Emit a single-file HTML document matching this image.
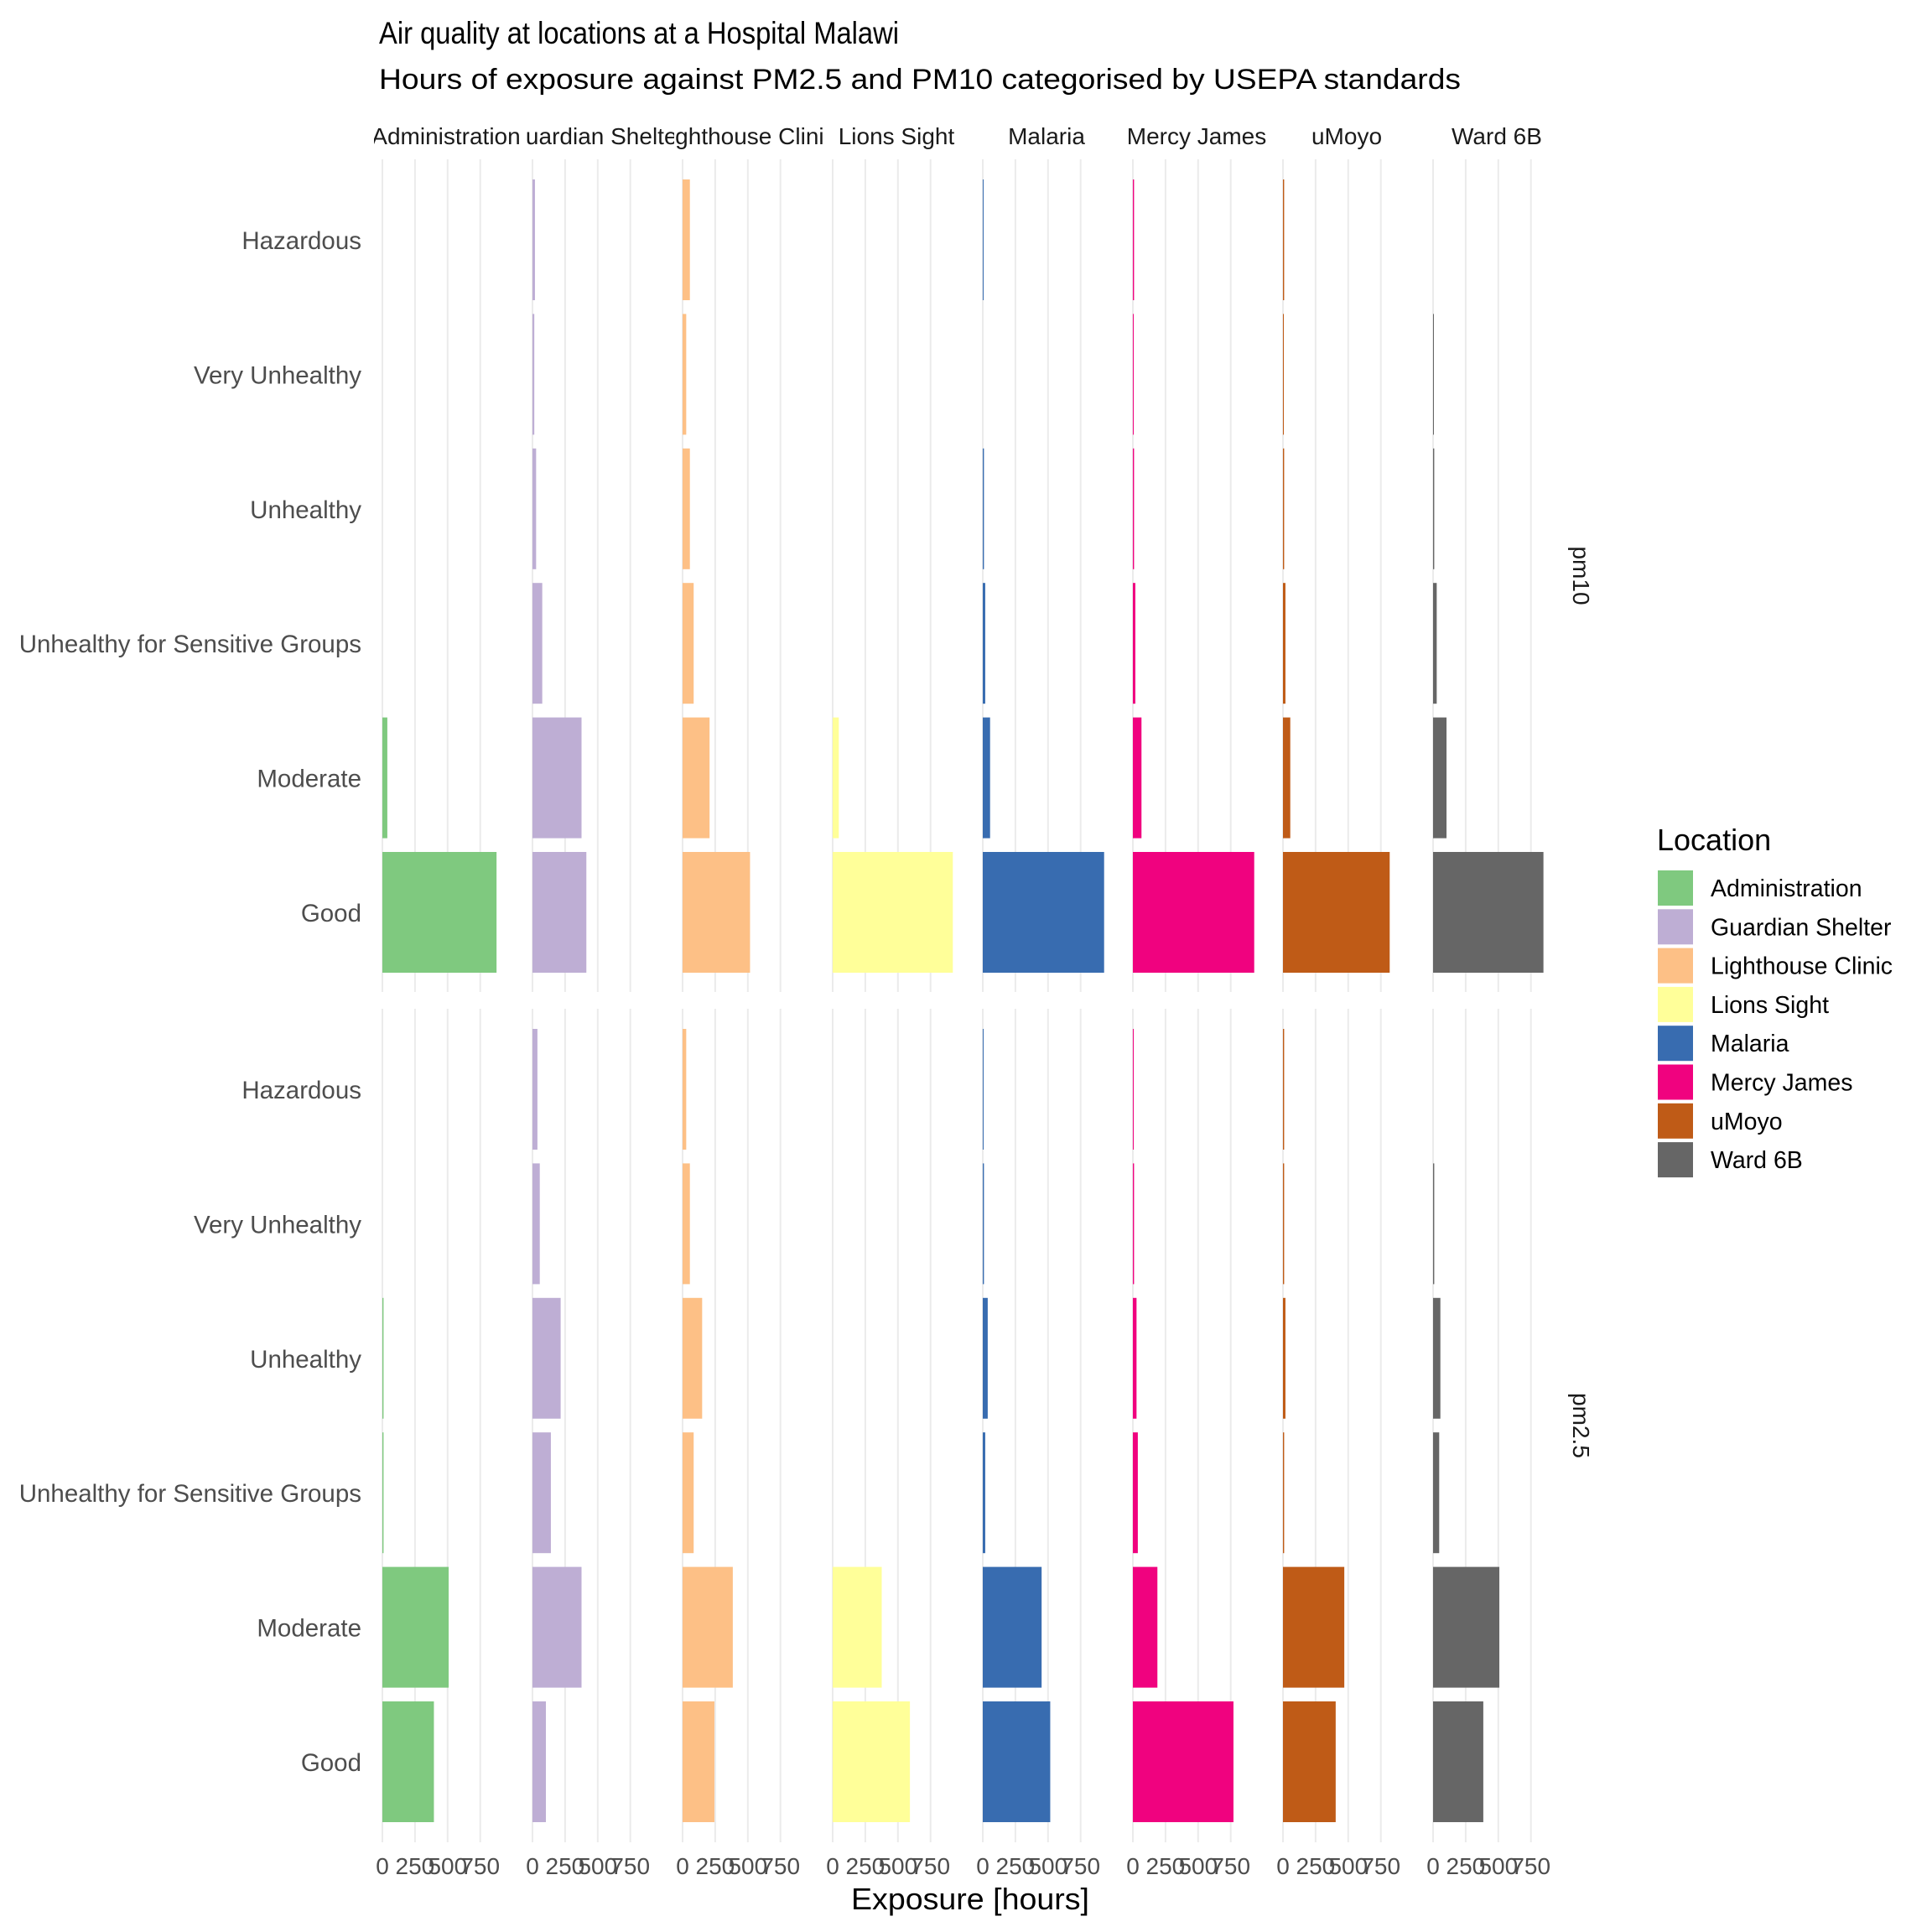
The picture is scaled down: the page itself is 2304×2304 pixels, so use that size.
<!DOCTYPE html>
<html><head><meta charset="utf-8"><style>
html,body{margin:0;padding:0;background:#fff;}
svg{display:block;font-family:"Liberation Sans",Arial,sans-serif;}
</style></head><body>
<svg id="chart" width="2304" height="2304" viewBox="0 0 2304 2304" xmlns="http://www.w3.org/2000/svg">
<rect width="2304" height="2304" fill="#fff"/>
<text x="452" y="52" font-size="37" textLength="620" lengthAdjust="spacingAndGlyphs" fill="#000">Air quality at locations at a Hospital Malawi</text>
<text x="452" y="106" font-size="34" textLength="1290" lengthAdjust="spacingAndGlyphs" fill="#000">Hours of exposure against PM2.5 and PM10 categorised by USEPA standards</text>
<text x="1157" y="2277" font-size="36" text-anchor="middle" textLength="284" lengthAdjust="spacingAndGlyphs" fill="#000">Exposure [hours]</text>
<g id="plot"></g>
<g id="legend"></g>
</svg>
<script>
const locations = ["Administration","Guardian Shelter","Lighthouse Clinic","Lions Sight","Malaria","Mercy James","uMoyo","Ward 6B"];
const colors = ["#7FC97F","#BEAED4","#FDC086","#FFFF99","#386CB0","#F0027F","#BF5B17","#666666"];
const categories = ["Hazardous","Very Unhealthy","Unhealthy","Unhealthy for Sensitive Groups","Moderate","Good"];
const pollutants = ["pm10","pm2.5"];
const xTicks = [0,250,500,750];
// values per location, ordered as categories (Hazardous ... Good)
const pm10Admin = [0,0,0,0,38,875];
const pm10Guardian = [19,14,28,75,376,413];
const pm10Lighthouse = [56,28,56,85,207,517];
const pm10Lions = [0,0,0,0,47,921];
const pm10Malaria = [5,0,9,19,56,930];
const pm10Mercy = [9,5,9,19,66,930];
const pm10uMoyo = [9,5,9,19,56,818];
const pm10Ward = [0,5,9,28,103,846];
const pm25Admin = [0,0,9,9,508,395];
const pm25Guardian = [38,56,216,141,376,103];
const pm25Lighthouse = [28,56,150,85,385,244];
const pm25Lions = [0,0,0,0,376,592];
const pm25Malaria = [5,9,38,19,451,517];
const pm25Mercy = [5,9,28,38,188,771];
const pm25uMoyo = [9,9,19,9,470,404];
const pm25Ward = [0,9,56,47,508,385];
const pm10Values = [pm10Admin,pm10Guardian,pm10Lighthouse,pm10Lions,pm10Malaria,pm10Mercy,pm10uMoyo,pm10Ward];
const pm25Values = [pm25Admin,pm25Guardian,pm25Lighthouse,pm25Lions,pm25Malaria,pm25Mercy,pm25uMoyo,pm25Ward];
const allValues = [pm10Values, pm25Values];

const NS="http://www.w3.org/2000/svg";
const plot=document.getElementById('plot');
function mk(tag,attrs,parent){const e=document.createElementNS(NS,tag);for(const k in attrs)e.setAttribute(k,attrs[k]);(parent||plot).appendChild(e);return e;}
const x0First=456, panelStep=179, pxPerHour=38.9/250;
function xScale(panel,v){return x0First+panel*panelStep+v*pxPerHour;}
const facetTop=[190,1203], facetBottom=[1183,2197];
const goodCenter=[1088,2101];
const rowStep=160.4, barH=144;
function yCenter(f,ci){return goodCenter[f]-(5-ci)*rowStep;}

const defs=mk('defs',{});
locations.forEach((loc,i)=>{
  const cp=mk('clipPath',{id:'clip'+i},defs);
  mk('rect',{x:xScale(i,0)-10,y:130,width:179,height:60},cp);
});
for(let f=0;f<2;f++){
  for(let i=0;i<locations.length;i++){
    xTicks.forEach(t=>{
      const l=mk('line',{x1:xScale(i,t),x2:xScale(i,t),y1:facetTop[f],y2:facetBottom[f],stroke:'#ebebeb','stroke-width':2});
      
      
    });
  }
}
for(let f=0;f<2;f++){
  categories.forEach((c,ci)=>{
    const t=mk('text',{x:431,y:yCenter(f,ci)+11,'font-size':29.5,'text-anchor':'end',fill:'#4d4d4d'});
    t.textContent=c;
    
    
  });
  const cy=(facetTop[f]+facetBottom[f])/2;
  const s=mk('text',{x:1876,y:cy,'font-size':28,'text-anchor':'middle',fill:'#1a1a1a',transform:`rotate(90 1876 ${cy})`});
  s.textContent=pollutants[f];
  
  
}
for(let f=0;f<2;f++){
  allValues[f].forEach((vals,i)=>{
    vals.forEach((v,ci)=>{
      if(v<=0)return;
      const b=mk('rect',{x:xScale(i,0),y:yCenter(f,ci)-barH/2,width:Math.max(1,xScale(i,v)-xScale(i,0)),height:barH,fill:colors[i]});
      
      
    });
  });
}
locations.forEach((loc,i)=>{
  const t=mk('text',{x:xScale(i,0)+76,y:172,'font-size':28,'text-anchor':'middle',fill:'#1a1a1a','clip-path':`url(#clip${i})`});
  t.textContent=loc;
  
  
  xTicks.forEach(v=>{
    const tl=mk('text',{x:xScale(i,v),y:2235,'font-size':28,'text-anchor':'middle',fill:'#4d4d4d'});
    tl.textContent=String(v);
    
    
  });
});
const lg=document.getElementById('legend');
const lt=mk('text',{x:1976,y:1014,'font-size':36,fill:'#000'},lg);
lt.textContent='Location';


locations.forEach((loc,i)=>{
  const y=1038+i*46.3;
  const g=mk('g',{},lg);
  
  
  mk('rect',{x:1977,y:y,width:42,height:42,fill:colors[i]},g);
  const t=mk('text',{x:2040,y:y+31,'font-size':28.5,fill:'#000'},g);
  t.textContent=loc;
});
</script>
</body></html>
